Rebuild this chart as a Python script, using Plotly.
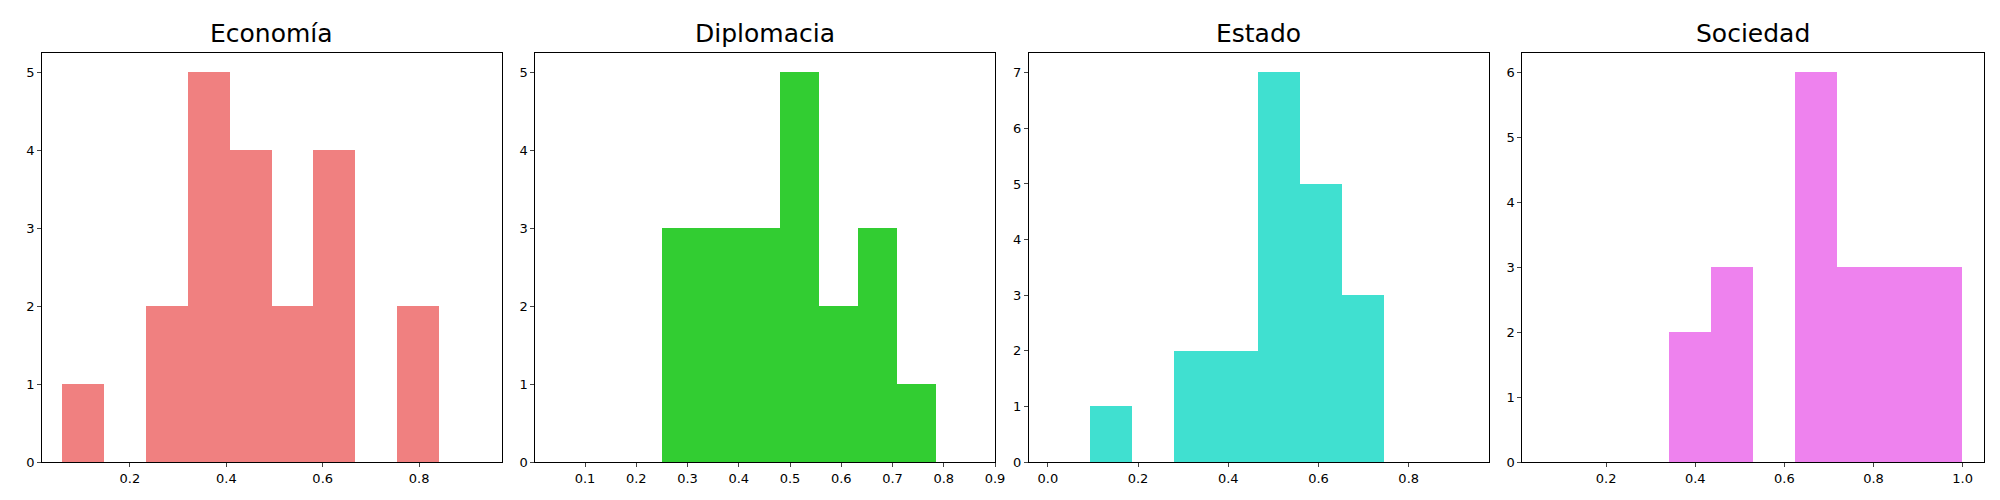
import plotly.graph_objects as go

titles = ["Economía", "Diplomacia", "Estado", "Sociedad"]
colors = ["#f08080", "#32cd32", "#40e0d0", "#ee82ee"]
counts = [
    [1, 0, 2, 5, 4, 2, 4, 0, 2],
    [3, 3, 3, 5, 2, 3, 1],
    [1, 0, 2, 2, 7, 5, 3],
    [2, 3, 0, 6, 3, 3, 3],
]
bin_start = [0.0605, 0.251, 0.093, 0.342]
bin_width = [0.0868, 0.0764, 0.093, 0.094]
x_ranges = [[0.018, 0.971], [0.003, 0.9], [-0.042, 0.977], [0.012, 1.048]]
y_ranges = [[0, 5.25], [0, 5.25], [0, 7.35], [0, 6.3]]
x_ticks = [[0.2, 0.4, 0.6, 0.8], [0.1, 0.2, 0.3, 0.4, 0.5, 0.6, 0.7, 0.8, 0.9],
           [0.0, 0.2, 0.4, 0.6, 0.8], [0.2, 0.4, 0.6, 0.8, 1.0]]
domains = [[0.0172, 0.248], [0.265, 0.496], [0.513, 0.744], [0.761, 0.993]]

fig = go.Figure()
layout = dict(width=2000, height=500, plot_bgcolor="white", paper_bgcolor="white",
              showlegend=False, margin=dict(l=0, r=0, t=0, b=0),
              font=dict(family="DejaVu Sans", color="black", size=13), bargap=0)
ann = []
for i in range(4):
    xs = [bin_start[i] + bin_width[i] * (k + 0.5) for k in range(len(counts[i]))]
    sfx = "" if i == 0 else str(i + 1)
    fig.add_trace(go.Bar(x=xs, y=counts[i], width=bin_width[i], marker_color=colors[i],
                         marker_line_width=0, xaxis="x" + sfx, yaxis="y" + sfx))
    ax = dict(domain=domains[i], range=x_ranges[i], tickvals=x_ticks[i],
              ticktext=[f"{v:.1f}" for v in x_ticks[i]], showgrid=False, zeroline=False,
              showline=True, linecolor="black", mirror=True, ticks="outside", ticklen=4,
              anchor="y" + sfx)
    ay = dict(domain=[0.077, 0.908], range=y_ranges[i], dtick=1, showgrid=False,
              zeroline=False, showline=True, linecolor="black", mirror=True,
              ticks="outside", ticklen=4, anchor="x" + sfx)
    layout["xaxis" + sfx] = ax
    layout["yaxis" + sfx] = ay
    ann.append(dict(text=titles[i], x=(domains[i][0] + domains[i][1]) / 2, y=0.915,
                    xref="paper", yref="paper", showarrow=False, xanchor="center",
                    yanchor="bottom", font=dict(size=25, family="DejaVu Sans")))
layout["annotations"] = ann
fig.update_layout(**layout)
fig.write_html("out.html")
